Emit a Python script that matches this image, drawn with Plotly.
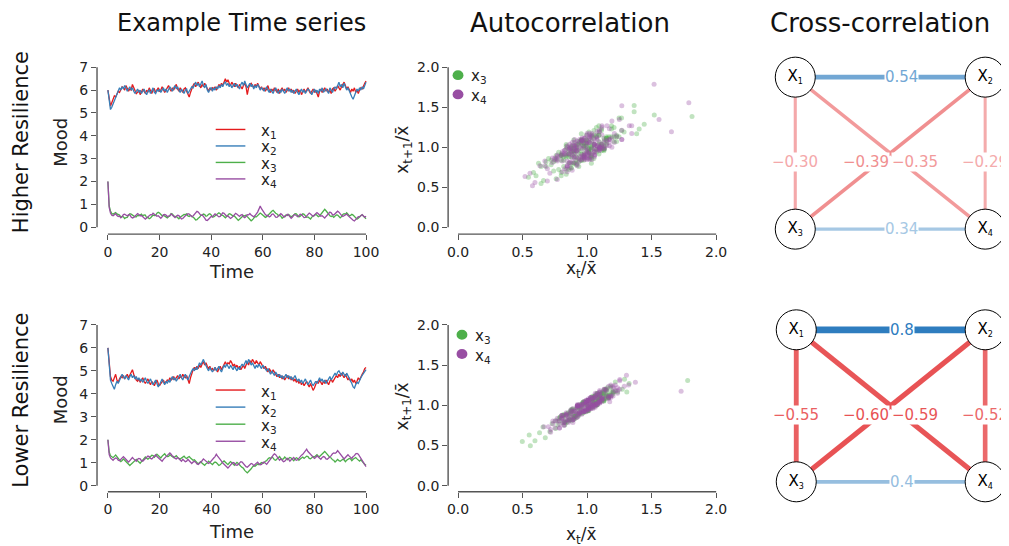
import numpy as np
import plotly.graph_objects as go

# The page has an 8px body margin: the figure is drawn 8px smaller and all
# reference-pixel positions below are converted with that offset.
OFF = 8
W, H = 1009 - OFF, 546 - OFF
FONT = "DejaVu Sans"

# ------------------------------------------------------------------ data
# Example time series, sampled every 0.5 time units (t = 0 ... 100)
hi_x1 = [6.00, 5.55, 5.30, 5.45, 5.60, 5.75, 5.70, 5.85, 5.95, 5.90, 6.05, 6.15, 6.10, 6.00, 6.20, 6.10, 5.95, 6.05, 6.00, 6.25, 6.10,
         5.95, 5.85, 5.90, 6.00, 5.80, 5.90, 6.05, 5.95, 5.85, 6.00, 5.90, 6.10, 5.95, 5.85, 6.00, 6.05, 5.90, 6.00, 6.10, 5.95,
         6.00, 6.15, 6.05, 5.90, 6.00, 6.10, 6.20, 6.05, 5.95, 6.10, 6.00, 6.15, 6.25, 6.05, 5.95, 6.10, 6.00, 5.90, 6.05, 6.10,
         5.95, 5.80, 5.70, 5.90, 6.10, 6.20, 6.30, 6.15, 6.25, 6.35, 6.20, 6.10, 6.25, 6.15, 6.30, 6.20, 6.05, 5.95, 6.10, 6.00,
         6.10, 6.05, 6.15, 6.00, 6.10, 6.25, 6.15, 6.30, 6.20, 6.40, 6.50, 6.35, 6.45, 6.30, 6.20, 6.35, 6.25, 6.15, 6.30, 6.20,
         6.10, 6.25, 6.15, 6.05, 6.20, 6.30, 6.15, 5.80, 6.10, 6.25, 6.30, 6.20, 6.10, 6.25, 6.15, 6.30, 6.20, 6.05, 6.15, 6.00,
         6.10, 5.95, 6.05, 6.20, 6.00, 5.90, 6.05, 5.95, 6.10, 6.00, 5.90, 6.05, 5.85, 6.00, 6.10, 5.95, 6.05, 5.90, 6.00, 6.10,
         5.95, 6.05, 5.90, 6.00, 5.85, 5.95, 6.05, 5.90, 6.00, 5.80, 5.95, 6.05, 5.90, 6.00, 6.10, 5.95, 5.85, 5.95, 6.05, 5.90,
         6.00, 5.85, 5.70, 5.95, 6.05, 5.90, 6.00, 6.10, 5.95, 6.05, 5.90, 6.00, 5.85, 6.05, 6.10, 5.95, 6.05, 6.20, 6.10, 6.00,
         6.15, 6.25, 6.35, 6.20, 6.05, 6.15, 6.00, 5.90, 6.05, 5.95, 6.10, 5.90, 6.00, 5.85, 6.00, 6.10, 6.05, 6.20, 6.30, 6.40]
hi_x2 = [6.00, 5.40, 5.15, 5.25, 5.40, 5.55, 5.70, 5.80, 5.95, 6.10, 6.00, 6.15, 6.05, 6.20, 6.10, 5.95, 6.05, 6.15, 6.00, 6.10, 5.95,
         5.85, 5.95, 6.05, 5.90, 6.00, 5.85, 5.95, 6.05, 5.90, 5.80, 5.95, 6.00, 5.85, 5.95, 6.10, 5.90, 5.85, 6.00, 5.95, 6.05,
         5.90, 6.00, 6.10, 5.95, 6.05, 5.90, 6.00, 6.15, 6.05, 5.95, 6.10, 6.20, 6.05, 6.15, 6.00, 5.90, 6.05, 5.95, 5.85, 6.00,
         6.05, 5.85, 5.95, 6.00, 6.15, 6.10, 6.25, 6.35, 6.20, 6.30, 6.15, 6.25, 6.40, 6.20, 6.10, 6.25, 6.00, 5.90, 6.05, 6.10,
         5.95, 6.10, 6.00, 6.15, 6.05, 6.20, 6.10, 6.25, 6.15, 6.30, 6.35, 6.20, 6.30, 6.15, 6.25, 6.10, 6.20, 6.30, 6.15, 6.25,
         6.15, 6.05, 6.25, 6.35, 6.20, 6.40, 6.25, 6.10, 6.20, 6.30, 6.15, 6.25, 6.05, 6.20, 6.10, 6.25, 6.15, 6.00, 6.10, 6.05,
         5.95, 6.05, 6.15, 6.00, 5.90, 6.05, 5.95, 5.85, 6.00, 6.10, 5.95, 5.85, 6.00, 5.90, 6.05, 5.95, 5.85, 6.00, 6.10, 5.95,
         6.05, 5.90, 6.00, 5.85, 5.95, 6.05, 5.90, 5.80, 5.95, 6.05, 5.90, 6.00, 5.85, 5.95, 6.05, 6.00, 5.90, 5.80, 5.95, 6.05,
         5.90, 6.00, 5.85, 6.05, 5.95, 6.10, 5.90, 6.00, 6.05, 5.95, 5.85, 6.10, 6.00, 5.90, 6.05, 6.15, 6.05, 6.25, 6.35, 6.15,
         6.25, 6.10, 6.30, 6.15, 6.00, 6.10, 5.95, 5.80, 5.70, 5.60, 5.75, 5.90, 6.05, 5.95, 6.10, 6.00, 6.15, 6.05, 6.25, 6.35]
hi_x3 = [2.00, 0.93, 0.71, 0.60,
         0.57, 0.62, 0.64, 0.58, 0.57, 0.53, 0.44, 0.47, 0.45, 0.38, 0.42, 0.43, 0.53, 0.59, 0.57, 0.53, 0.50, 0.45, 0.45, 0.52,
         0.50, 0.54, 0.57, 0.49, 0.54, 0.53, 0.41, 0.43, 0.37, 0.40, 0.48, 0.53, 0.51, 0.52, 0.61, 0.65, 0.62, 0.55, 0.50, 0.52,
         0.48, 0.47, 0.41, 0.46, 0.49, 0.60, 0.58, 0.50, 0.46, 0.47, 0.40, 0.37, 0.43, 0.47, 0.49, 0.56, 0.55, 0.58, 0.49, 0.47,
         0.52, 0.48, 0.42, 0.39, 0.31, 0.33, 0.39, 0.43, 0.52, 0.53, 0.58, 0.55, 0.48, 0.50, 0.56, 0.59, 0.54, 0.44, 0.45, 0.49,
         0.56, 0.61, 0.63, 0.59, 0.53, 0.52, 0.44, 0.41, 0.47, 0.51, 0.59, 0.57, 0.52, 0.49, 0.49, 0.43, 0.34, 0.30, 0.35, 0.42,
         0.45, 0.51, 0.49, 0.53, 0.46, 0.41, 0.33, 0.28, 0.32, 0.41, 0.46, 0.45, 0.51, 0.54, 0.62, 0.58, 0.52, 0.50, 0.43, 0.46,
         0.53, 0.55, 0.64, 0.70, 0.74, 0.66, 0.61, 0.58, 0.51, 0.52, 0.48, 0.39, 0.44, 0.47, 0.53, 0.51, 0.56, 0.50, 0.46, 0.48,
         0.55, 0.59, 0.58, 0.50, 0.45, 0.48, 0.54, 0.59, 0.56, 0.47, 0.43, 0.45, 0.38, 0.36, 0.44, 0.50, 0.51, 0.56, 0.52, 0.46,
         0.49, 0.56, 0.65, 0.70, 0.78, 0.72, 0.63, 0.58, 0.50, 0.47, 0.49, 0.43, 0.50, 0.54, 0.53, 0.45, 0.41, 0.46, 0.56, 0.59,
         0.57, 0.63, 0.55, 0.50, 0.52, 0.56, 0.53, 0.46, 0.41, 0.35, 0.39, 0.46, 0.51, 0.54, 0.48, 0.44, 0.37]
hi_x4 = [2.00, 0.86, 0.62, 0.52,
         0.50, 0.56, 0.59, 0.51, 0.47, 0.48, 0.41, 0.46, 0.55, 0.57, 0.52, 0.49, 0.55, 0.54, 0.44, 0.40, 0.43, 0.50, 0.58, 0.60,
         0.56, 0.50, 0.51, 0.46, 0.37, 0.35, 0.40, 0.44, 0.52, 0.55, 0.54, 0.61, 0.57, 0.51, 0.48, 0.50, 0.45, 0.39, 0.45, 0.54,
         0.56, 0.53, 0.46, 0.47, 0.51, 0.58, 0.53, 0.45, 0.42, 0.48, 0.52, 0.51, 0.44, 0.36, 0.38, 0.45, 0.50, 0.53, 0.59, 0.57,
         0.50, 0.46, 0.49, 0.57, 0.62, 0.69, 0.66, 0.57, 0.52, 0.54, 0.48, 0.40, 0.31, 0.29, 0.35, 0.43, 0.47, 0.46, 0.53, 0.58,
         0.54, 0.51, 0.45, 0.47, 0.57, 0.63, 0.61, 0.53, 0.48, 0.49, 0.43, 0.38, 0.42, 0.49, 0.52, 0.61, 0.57, 0.50, 0.47, 0.53,
         0.55, 0.46, 0.42, 0.47, 0.55, 0.54, 0.60, 0.53, 0.48, 0.45, 0.51, 0.58, 0.66, 0.79, 0.93, 0.81, 0.70, 0.61, 0.55, 0.51,
         0.52, 0.45, 0.48, 0.56, 0.58, 0.52, 0.44, 0.43, 0.48, 0.54, 0.59, 0.55, 0.47, 0.45, 0.52, 0.56, 0.53, 0.44, 0.39, 0.44,
         0.53, 0.55, 0.49, 0.46, 0.50, 0.57, 0.55, 0.47, 0.42, 0.43, 0.50, 0.56, 0.62, 0.58, 0.51, 0.47, 0.53, 0.61, 0.64, 0.59,
         0.52, 0.48, 0.50, 0.44, 0.40, 0.47, 0.52, 0.60, 0.66, 0.63, 0.55, 0.53, 0.58, 0.65, 0.70, 0.66, 0.57, 0.52, 0.47, 0.50,
         0.56, 0.57, 0.51, 0.45, 0.42, 0.36, 0.30, 0.27, 0.33, 0.40, 0.46, 0.45, 0.51, 0.55, 0.49, 0.44, 0.48]

lo_x1 = [6.00, 5.20, 4.75, 4.60, 4.55, 4.70, 4.85, 4.60, 4.50, 4.65, 4.75, 4.70, 4.80, 4.65, 4.75, 4.85, 4.70, 4.80, 4.90, 5.05, 4.85,
         4.70, 4.60, 4.55, 4.65, 4.50, 4.60, 4.70, 4.55, 4.45, 4.55, 4.65, 4.50, 4.40, 4.55, 4.45, 4.35, 4.50, 4.60, 4.45, 4.35,
         4.45, 4.55, 4.60, 4.45, 4.50, 4.60, 4.55, 4.70, 4.60, 4.65, 4.75, 4.60, 4.70, 4.80, 4.65, 4.75, 4.70, 4.85, 4.75, 4.70,
         4.80, 4.65, 4.45, 4.70, 4.90, 5.05, 5.15, 5.05, 5.20, 5.10, 5.25, 5.15, 5.30, 5.40, 5.25, 5.35, 5.20, 5.10, 5.20, 5.05,
         5.10, 5.00, 5.15, 5.05, 4.95, 5.10, 5.20, 5.05, 5.15, 5.30, 5.40, 5.25, 5.35, 5.30, 5.45, 5.35, 5.20, 5.30, 5.15, 5.25,
         5.10, 5.20, 5.05, 5.15, 5.25, 5.10, 5.30, 5.40, 5.25, 5.45, 5.35, 5.50, 5.40, 5.30, 5.45, 5.35, 5.25, 5.40, 5.30, 5.20,
         5.10, 5.20, 5.05, 4.95, 5.10, 5.00, 4.90, 5.05, 4.95, 4.85, 4.75, 4.85, 4.70, 4.80, 4.65, 4.75, 4.60, 4.70, 4.80, 4.65,
         4.75, 4.60, 4.70, 4.55, 4.65, 4.50, 4.60, 4.45, 4.55, 4.40, 4.50, 4.35, 4.45, 4.55, 4.40, 4.30, 4.45, 4.30, 4.15, 4.25,
         4.40, 4.55, 4.45, 4.60, 4.50, 4.40, 4.55, 4.45, 4.60, 4.50, 4.40, 4.55, 4.65, 4.50, 4.60, 4.70, 4.80, 4.70, 4.85, 4.75,
         4.90, 4.80, 4.70, 4.85, 4.75, 4.60, 4.70, 4.55, 4.65, 4.50, 4.60, 4.45, 4.55, 4.70, 4.60, 4.75, 4.85, 4.95, 5.10, 5.15]
lo_x2 = [6.00, 5.05, 4.60, 4.45, 4.30, 4.20, 4.40, 4.55, 4.45, 4.60, 4.70, 4.85, 4.75, 4.65, 4.80, 4.70, 4.60, 4.75, 4.85, 4.70, 4.80,
         4.65, 4.75, 4.60, 4.70, 4.55, 4.65, 4.50, 4.60, 4.70, 4.55, 4.45, 4.55, 4.65, 4.50, 4.40, 4.50, 4.60, 4.45, 4.30, 4.40,
         4.55, 4.65, 4.50, 4.40, 4.55, 4.45, 4.60, 4.50, 4.65, 4.75, 4.60, 4.70, 4.55, 4.65, 4.75, 4.85, 4.70, 4.60, 4.75, 4.85,
         4.70, 4.60, 4.75, 4.90, 5.00, 5.10, 5.00, 5.15, 5.05, 5.20, 5.35, 5.25, 5.40, 5.50, 5.35, 5.20, 5.10, 5.00, 5.15, 5.05,
         4.95, 5.05, 5.15, 5.00, 5.10, 5.20, 5.05, 4.95, 5.10, 5.25, 5.15, 5.30, 5.20, 5.10, 5.25, 5.15, 5.05, 5.20, 5.10, 5.00,
         5.15, 5.05, 5.20, 5.30, 5.20, 5.35, 5.45, 5.30, 5.50, 5.40, 5.25, 5.35, 5.20, 5.10, 5.25, 5.15, 5.30, 5.20, 5.10, 5.25,
         5.15, 5.05, 5.00, 5.10, 4.95, 4.85, 5.00, 4.90, 4.80, 4.95, 4.85, 4.75, 4.85, 4.70, 4.80, 4.65, 4.75, 4.85, 4.70, 4.80,
         4.65, 4.75, 4.60, 4.70, 4.80, 4.65, 4.55, 4.65, 4.50, 4.60, 4.45, 4.55, 4.65, 4.50, 4.40, 4.50, 4.60, 4.45, 4.35, 4.45,
         4.55, 4.45, 4.60, 4.70, 4.55, 4.65, 4.50, 4.60, 4.45, 4.55, 4.65, 4.75, 4.60, 4.70, 4.80, 4.90, 4.80, 4.95, 5.00, 4.90,
         4.80, 4.95, 4.85, 4.75, 4.90, 4.80, 4.70, 4.55, 4.45, 4.30, 4.25, 4.40, 4.50, 4.45, 4.60, 4.70, 4.80, 4.90, 5.00, 5.05]
lo_x3 = [2.00, 1.47, 1.31, 1.25, 1.22, 1.28, 1.34, 1.27, 1.18, 1.14, 1.05, 1.10, 1.17, 1.11, 1.04, 0.99, 0.91, 0.88, 0.94, 0.99, 1.06,
         1.08, 1.15, 1.09, 1.02, 0.98, 1.05, 1.13, 1.19, 1.25, 1.20, 1.16, 1.21, 1.29, 1.33, 1.31, 1.24, 1.30, 1.37, 1.32, 1.27,
         1.21, 1.29, 1.33, 1.39, 1.31, 1.27, 1.28, 1.35, 1.31, 1.24, 1.22, 1.26, 1.31, 1.23, 1.18, 1.16, 1.21, 1.27, 1.29, 1.22,
         1.19, 1.24, 1.27, 1.21, 1.16, 1.11, 1.13, 1.06, 1.03, 0.95, 1.01, 1.05, 0.98, 0.93, 0.89, 0.96, 0.99, 1.07, 1.02, 0.97,
         0.92, 0.99, 1.03, 1.01, 0.94, 0.88, 0.91, 0.99, 1.04, 1.08, 1.01, 0.97, 0.92, 0.99, 1.05, 1.00, 0.95, 0.89, 0.96, 1.02,
         0.97, 0.93, 0.85, 0.80, 0.76, 0.67, 0.63, 0.56, 0.62, 0.71, 0.74, 0.82, 0.87, 0.85, 0.91, 0.95, 0.92, 0.98, 1.01, 0.97,
         1.00, 1.07, 1.09, 1.17, 1.22, 1.19, 1.25, 1.21, 1.13, 1.11, 1.17, 1.21, 1.27, 1.19, 1.15, 1.17, 1.25, 1.20, 1.13, 1.19,
         1.23, 1.21, 1.14, 1.09, 1.17, 1.22, 1.19, 1.11, 1.16, 1.23, 1.25, 1.19, 1.25, 1.29, 1.27, 1.19, 1.17, 1.23, 1.27, 1.25,
         1.29, 1.35, 1.29, 1.27, 1.33, 1.37, 1.45, 1.49, 1.43, 1.35, 1.31, 1.23, 1.21, 1.13, 1.11, 1.03, 1.09, 1.15, 1.09, 1.07,
         1.11, 1.15, 1.13, 1.05, 1.11, 1.17, 1.19, 1.17, 1.09, 1.15, 1.21, 1.23, 1.17, 1.13, 1.07, 1.13, 1.05, 1.01, 0.93, 0.89]
lo_x4 = [2.00, 1.36, 1.21, 1.14, 1.11, 1.17, 1.21, 1.19, 1.11, 1.09, 1.15, 1.19, 1.27, 1.21, 1.13, 1.09, 1.03, 1.11, 1.15, 1.23, 1.17,
         1.13, 1.07, 1.15, 1.19, 1.17, 1.09, 1.07, 1.13, 1.17, 1.25, 1.29, 1.27, 1.19, 1.17, 1.23, 1.27, 1.35, 1.27, 1.23, 1.17,
         1.13, 1.07, 1.15, 1.21, 1.25, 1.31, 1.35, 1.43, 1.37, 1.29, 1.27, 1.19, 1.17, 1.23, 1.17, 1.13, 1.07, 1.15, 1.09, 1.05,
         1.07, 1.15, 1.09, 1.05, 0.97, 1.03, 1.07, 1.03, 0.95, 0.93, 0.97, 1.05, 1.09, 1.17, 1.11, 1.07, 0.99, 0.97, 1.01, 1.09,
         1.13, 1.21, 1.27, 1.37, 1.29, 1.23, 1.13, 1.07, 0.99, 0.95, 0.87, 0.83, 0.77, 0.85, 0.89, 0.97, 1.01, 0.99, 0.91, 0.89,
         0.93, 1.01, 1.05, 1.03, 0.95, 0.91, 0.83, 0.81, 0.85, 0.93, 0.97, 0.95, 0.87, 0.93, 0.97, 1.03, 0.95, 0.91, 0.93, 1.01,
         1.03, 0.99, 0.93, 1.01, 1.07, 1.17, 1.23, 1.33, 1.39, 1.35, 1.25, 1.19, 1.11, 1.17, 1.09, 1.05, 1.07, 1.15, 1.19, 1.15,
         1.07, 1.13, 1.17, 1.23, 1.15, 1.11, 1.13, 1.21, 1.25, 1.33, 1.37, 1.45, 1.51, 1.59, 1.49, 1.43, 1.33, 1.29, 1.21, 1.19,
         1.23, 1.31, 1.25, 1.21, 1.15, 1.23, 1.27, 1.25, 1.17, 1.15, 1.19, 1.27, 1.31, 1.39, 1.43, 1.41, 1.45, 1.53, 1.45, 1.39,
         1.29, 1.25, 1.17, 1.23, 1.27, 1.35, 1.29, 1.25, 1.19, 1.27, 1.31, 1.39, 1.41, 1.37, 1.27, 1.21, 1.11, 1.03, 0.91, 0.83]

series_names = ["x<sub>1</sub>", "x<sub>2</sub>", "x<sub>3</sub>", "x<sub>4</sub>"]
series_colors = ["#e41a1c", "#377eb8", "#4daf4a", "#984ea3"]
ts_xticks = [0, 20, 40, 60, 80, 100]
ts_yticks = [0, 1, 2, 3, 4, 5, 6, 7]
ac_ticks = [0.0, 0.5, 1.0, 1.5, 2.0]
ac_ticktext = ["0.0", "0.5", "1.0", "1.5", "2.0"]

# Cross-correlation network
node_labels = ["X<sub><span style='font-size:8px'>1</span></sub>",
               "X<sub><span style='font-size:8px'>2</span></sub>",
               "X<sub><span style='font-size:8px'>3</span></sub>",
               "X<sub><span style='font-size:8px'>4</span></sub>"]
node_col = [0, 1, 0, 1]
node_row = [1, 1, 0, 0]
edge_pairs = [(0, 1), (0, 2), (1, 3), (0, 3), (1, 2), (2, 3)]
hi_corr = [0.54, -0.30, -0.29, -0.35, -0.39, 0.34]
hi_corr_text = ["0.54", "\u22120.30", "\u22120.29", "\u22120.35", "\u22120.39", "0.34"]
lo_corr = [0.80, -0.55, -0.52, -0.59, -0.60, 0.40]
lo_corr_text = ["0.8", "\u22120.55", "\u22120.52", "\u22120.59", "\u22120.60", "0.4"]

row_titles = ["Higher Resilience", "Lower Resilience"]
col_titles = ["Example Time series", "Autocorrelation", "Cross-correlation"]

# ------------------------------------------------------------------ helpers
def fx(p):  # reference page pixel -> paper x
    return (p - OFF) / W

def fy(p):  # reference page pixel -> paper y
    return 1 - (p - OFF) / H

def lin(p0, v0, p1, v1, p):
    return v0 + (p - p0) * (v1 - v0) / (p1 - p0)

def edge_rgb(r):
    if r >= 0:
        base, full = (46, 125, 191), 0.8
    else:
        base, full = (232, 82, 84), 0.6
    t = min(1.0, abs(r) / full)
    c = [round(255 - t * (255 - b)) for b in base]
    return "rgb(%d,%d,%d)" % tuple(c)

AXCOL = "#555555"
TXT = "#222222"
AX = dict(showgrid=False, zeroline=False, showline=False, ticks="outside",
          ticklen=5, tickwidth=1.2, tickcolor=AXCOL,
          tickfont=dict(family=FONT, size=14, color=TXT), fixedrange=True)

fig = go.Figure()
layout = {}
shapes = []
annotations = []

def ann(text, xp, yp, size, angle=0, xanchor="center", color=TXT):
    annotations.append(dict(text=text, x=fx(xp), y=fy(yp), xref="paper", yref="paper",
                            showarrow=False, textangle=angle, xanchor=xanchor, yanchor="middle",
                            font=dict(family=FONT, size=size, color=color)))

# pixel geometry of the two rows (reference page pixels)
rows = [
    dict(top=60, bot=232, ts0=225, ts7=63, ac0=225, ac2=63, n1=73, n0=227, nx0=803, nx1=995,
         leg_y=126, leg_dy=16.7, acl_x=462, acl_y=71, title_y=139, time_y=270, xl_y=268, yl_y=147,
         series=[hi_x1, hi_x2, hi_x3, hi_x4], corr=hi_corr, ctext=hi_corr_text),
    dict(top=321, bot=493, ts0=487, ts7=324, ac0=487, ac2=324, n1=329, n0=483, nx0=804, nx1=995,
         leg_y=390, leg_dy=17.3, acl_x=466, acl_y=334, title_y=400, time_y=533, xl_y=537, yl_y=407,
         series=[lo_x1, lo_x2, lo_x3, lo_x4], corr=lo_corr, ctext=lo_corr_text),
]

AC_LEG_FONT = 15
AC_LEG_STEP = 1.3 * AC_LEG_FONT  # plotly line spacing for <br>

for r, R in enumerate(rows):
    k = 3 * r
    ids = [k + 1, k + 2, k + 3]
    def nm(i, a):  # axis ref name
        return a if i == 1 else "%s%d" % (a, i)
    ydom = [fy(R["bot"]), fy(R["top"])]

    # ---------------- time series
    i = ids[0]
    xr = [lin(108, 0, 369, 100, 97), lin(108, 0, 369, 100, 372)]
    yr = [lin(R["ts0"], 0, R["ts7"], 7, R["bot"]), lin(R["ts0"], 0, R["ts7"], 7, R["top"])]
    layout[nm(i, "xaxis")] = dict(AX, domain=[fx(97), fx(372)], range=xr, tickvals=ts_xticks, anchor=nm(i, "y"))
    layout[nm(i, "yaxis")] = dict(AX, domain=ydom, range=yr, tickvals=ts_yticks, anchor=nm(i, "x"))
    for s, name, col in zip(R["series"], series_names, series_colors):
        t = [0.5 * j for j in range(len(s))]
        fig.add_trace(go.Scatter(x=t, y=s, mode="lines", name=name, showlegend=False,
                                 line=dict(color=col, width=1.3), xaxis=nm(i, "x"), yaxis=nm(i, "y")))
    shapes.append(dict(type="line", xref=nm(i, "x") + " domain", yref=nm(i, "y"), x0=0, x1=0,
                       y0=ts_yticks[0], y1=ts_yticks[-1], line=dict(color=AXCOL, width=1.4)))
    shapes.append(dict(type="line", xref=nm(i, "x"), yref=nm(i, "y") + " domain", y0=0, y1=0,
                       x0=ts_xticks[0], x1=ts_xticks[-1], line=dict(color=AXCOL, width=1.4)))
    # legend
    for j, (name, col) in enumerate(zip(series_names, series_colors)):
        yy = R["leg_y"] + j * R["leg_dy"]
        shapes.append(dict(type="line", xref="paper", yref="paper", x0=fx(217), x1=fx(247),
                           y0=fy(yy), y1=fy(yy), line=dict(color=col, width=1.4)))
        ann(name, 261, yy + 2, 15, xanchor="left")
    ann("Time", 233, R["time_y"], 18)
    ann("Mood", 60, R["title_y"], 18, angle=-90)
    ann(row_titles[r], 20, R["title_y"], 21, angle=-90, color="#111")

    # ---------------- autocorrelation
    i = ids[1]
    xr = [lin(462, 0, 723, 2, 452), lin(462, 0, 723, 2, 726)]
    yr = [lin(R["ac0"], 0, R["ac2"], 2, R["bot"]), lin(R["ac0"], 0, R["ac2"], 2, R["top"])]
    layout[nm(i, "xaxis")] = dict(AX, domain=[fx(452), fx(726)], range=xr, tickvals=ac_ticks,
                                  ticktext=ac_ticktext, anchor=nm(i, "y"))
    layout[nm(i, "yaxis")] = dict(AX, domain=ydom, range=yr, tickvals=ac_ticks,
                                  ticktext=ac_ticktext, anchor=nm(i, "x"))
    for s, name, col in list(zip(R["series"], series_names, series_colors))[2:]:
        a = np.array(s, dtype=float)
        m = a.mean()
        fig.add_trace(go.Scatter(x=a[:-1] / m, y=a[1:] / m, mode="markers", name=name, showlegend=False,
                                 marker=dict(color=col, size=5, opacity=0.35, line=dict(width=0)),
                                 xaxis=nm(i, "x"), yaxis=nm(i, "y")))
    shapes.append(dict(type="line", xref=nm(i, "x") + " domain", yref=nm(i, "y"), x0=0, x1=0,
                       y0=ac_ticks[0], y1=ac_ticks[-1], line=dict(color=AXCOL, width=1.4)))
    shapes.append(dict(type="line", xref=nm(i, "x"), yref=nm(i, "y") + " domain", y0=0, y1=0,
                       x0=ac_ticks[0], x1=ac_ticks[-1], line=dict(color=AXCOL, width=1.4)))
    ac_items = list(zip(series_names, series_colors))[2:]
    for j, (name, col) in enumerate(ac_items):
        cx, cy = R["acl_x"], R["acl_y"] + j * AC_LEG_STEP
        shapes.append(dict(type="circle", xref="paper", yref="paper",
                           x0=fx(cx - 5.5), x1=fx(cx + 5.5), y0=fy(cy + 5), y1=fy(cy - 5),
                           fillcolor=col, line=dict(width=0)))
    annotations.append(dict(text="<br>".join(n for n, _ in ac_items),
                            x=fx(R["acl_x"] + 12),
                            y=fy(R["acl_y"] + 0.5 * AC_LEG_STEP * (len(ac_items) - 1) + 2),
                            xref="paper", yref="paper", showarrow=False, align="left",
                            xanchor="left", yanchor="middle", borderpad=0,
                            font=dict(family=FONT, size=AC_LEG_FONT, color=TXT)))
    ann("x<sub>t</sub>/x\u0304", 587, R["xl_y"], 17)
    ann("x<sub>t+1</sub>/x\u0304", 407, R["yl_y"], 17, angle=-90)

    # ---------------- cross-correlation network
    i = ids[2]
    xr = [lin(R["nx0"], 0, R["nx1"], 1, 760), lin(R["nx0"], 0, R["nx1"], 1, 1009)]
    yr = [lin(R["n0"], 0, R["n1"], 1, R["bot"] + 20), lin(R["n0"], 0, R["n1"], 1, R["top"] - 20)]
    layout[nm(i, "xaxis")] = dict(visible=False, domain=[fx(760), 1.0], range=xr, fixedrange=True, anchor=nm(i, "y"))
    layout[nm(i, "yaxis")] = dict(visible=False, domain=[fy(R["bot"] + 20), fy(R["top"] - 20)],
                                  range=yr, fixedrange=True, anchor=nm(i, "x"))
    for (a, b), c, txt in zip(edge_pairs, R["corr"], R["ctext"]):
        col = edge_rgb(c)
        fig.add_trace(go.Scatter(x=[node_col[a], node_col[b]], y=[node_row[a], node_row[b]], mode="lines",
                                 showlegend=False, hoverinfo="skip", cliponaxis=False,
                                 line=dict(color=col, width=1 + 7 * abs(c)),
                                 xaxis=nm(i, "x"), yaxis=nm(i, "y")))
        dx = node_col[b] - node_col[a]
        dy = node_row[b] - node_row[a]
        f = 0.56
        annotations.append(dict(text=txt, x=node_col[a] + f * dx, y=node_row[a] + f * dy,
                                xref=nm(i, "x"), yref=nm(i, "y"), showarrow=False,
                                xshift=(13 * dx if (dx != 0 and dy != 0) else 0),
                                bgcolor="white", borderpad=0,
                                font=dict(family=FONT, size=15, color=col)))
    fig.add_trace(go.Scatter(x=node_col, y=node_row, mode="markers+text", text=node_labels,
                             textposition="middle center", showlegend=False, cliponaxis=False,
                             textfont=dict(family=FONT, size=15, color="black"),
                             marker=dict(size=40, color="white", line=dict(color="black", width=1)),
                             xaxis=nm(i, "x"), yaxis=nm(i, "y")))

# column titles
for txt, cx, sz in zip(col_titles, [243, 575, 889], [24, 26, 26]):
    ann(txt, cx, 18, sz, color="#111")

fig.update_layout(width=W, height=H, margin=dict(l=0, r=0, t=0, b=0),
                  font=dict(family=FONT, size=14, color=TXT),
                  paper_bgcolor="white", plot_bgcolor="white", showlegend=False,
                  hovermode=False, shapes=shapes, annotations=annotations, **layout)
fig.write_html("out.html", config={"displayModeBar": False})
